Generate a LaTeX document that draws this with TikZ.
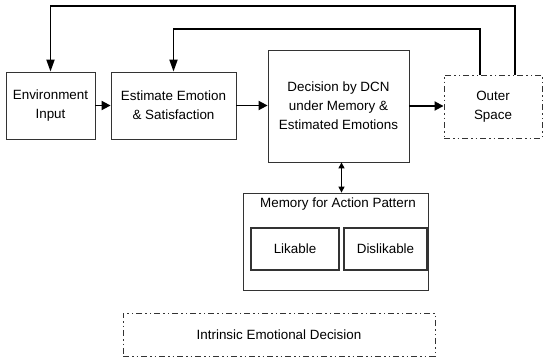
\documentclass[tikz,border=0pt]{standalone}
\usepackage{fontspec}
\setmainfont{Liberation Sans}
\usetikzlibrary{positioning,arrows.meta}

\begin{document}
\begin{tikzpicture}[
        x=1pt, y=-1pt,
        font=\fontsize{13.4}{19}\selectfont,
        >={Triangle[length=9pt, width=9pt]},
        block/.style={rectangle, draw=black!80, line width=0.8pt, align=center, inner sep=0pt},
        inner/.style={block, line width=1.1pt, minimum height=42pt},
        outer/.style={rectangle, draw=black!80, line width=0.9pt, align=center, inner sep=0pt,
                      dash pattern=on 6pt off 3pt on 1.5pt off 3pt on 1.5pt off 3pt},
        flow/.style={->, line width=1.8pt},
        back/.style={flow, >={Triangle[length=12pt, width=8pt]}},
        link/.style={<->, line width=1.2pt, >={Triangle[length=6pt, width=6pt]}},
    ]
        \useasboundingbox (0,0) rectangle (548,361);
        \def\topy{6} \def\midy{29}
        \node[block, minimum width=89pt, minimum height=67pt] (env) at (50.5,105.5) {Environment\\Input};
        \node[block, minimum width=125pt, minimum height=67pt] (est) at (173.5,105.5) {Estimate Emotion\\\& Satisfaction};
        \node[block, minimum width=141pt, minimum height=112pt] (dec) at (338.5,106) {Decision by DCN\\under Memory \&\\Estimated Emotions};
        \node[outer, minimum width=98pt, minimum height=63pt] (out) at (493,106.5) {Outer\\Space};
        \node[block, minimum width=185pt, minimum height=97pt] (mem) at (335.5,241.5) {};
        \node (memlbl) at (338,204) {Memory for Action Pattern};
        \node[inner, minimum width=88pt] (like) at (295,249) {Likable};
        \node[inner, minimum width=83pt] (dislike) at (385.5,249) {Dislikable};
        \node[outer, minimum width=312pt, minimum height=43pt] (intr) at (279,334.5) {Intrinsic Emotional Decision};
        % forward path
        \draw[flow] (env.east) -- (est.west);
        \draw[flow] (est.east) -- (est.east -| dec.west);
        \draw[flow] (dec.east) -- (dec.east -| out.west);
        \draw[link] ([xshift=3pt]dec.south) -- ([xshift=3pt]dec.south |- mem.north);
        % feedback from outer space
        \coordinate (fbtop) at (300,\topy);
        \coordinate (fbmid) at (300,\midy);
        \draw[back] ([xshift=22pt]out.north) |- (fbtop) -| (env.north);
        \draw[back] ([xshift=-13pt]out.north) |- (fbmid) -| (est.north);
    \end{tikzpicture}
\end{document}
